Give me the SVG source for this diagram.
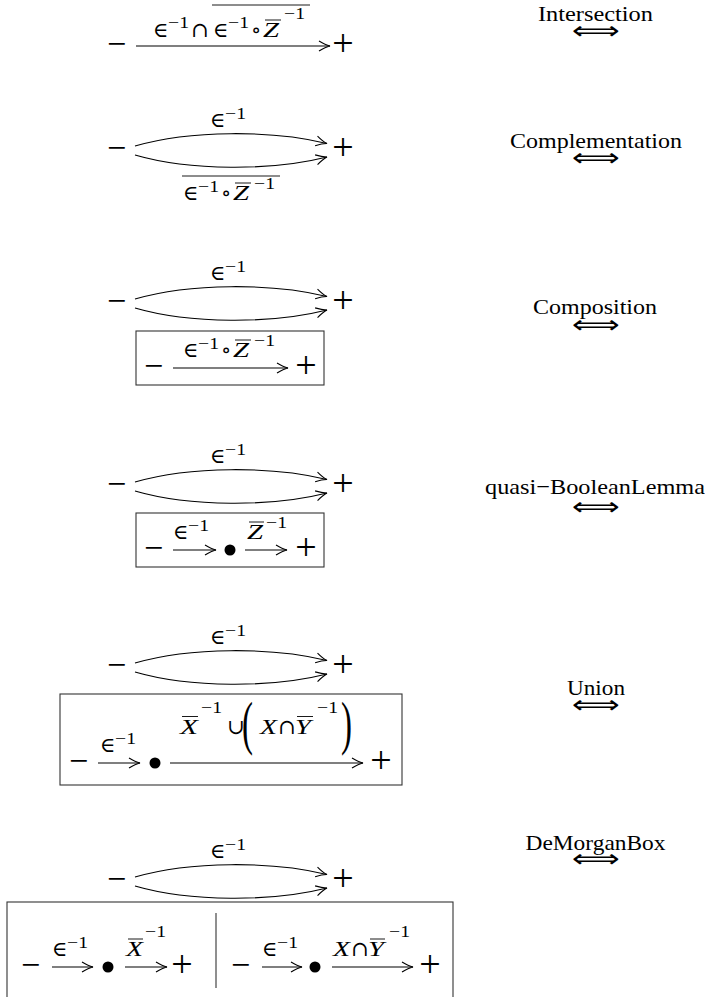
<svg xmlns="http://www.w3.org/2000/svg" width="705" height="997" viewBox="0 0 705 997">
<defs>
<marker id="ah" markerUnits="userSpaceOnUse" viewBox="-13 -7 15 14" markerWidth="15" markerHeight="14" refX="0" refY="0" orient="auto">
<path d="M-11,-5 Q-4.5,-1 0,0 Q-4.5,1 -11,5" fill="none" stroke="#000" stroke-width="1.1"/>
</marker>
<style>
text{font-family:"Liberation Serif","DejaVu Serif",serif;fill:#000}
.m{font-size:22px}
.e{font-size:21px;font-family:"DejaVu Serif","Liberation Serif",serif}
.s{font-size:16px}
.i{font-style:italic;font-size:22px}
.mi{font-size:34px;text-anchor:middle}
.pl{font-size:38px;text-anchor:middle}
.lb{font-size:22px;text-anchor:middle}
.dbl{font-family:"DejaVu Sans",sans-serif;font-size:25px;text-anchor:middle}
.ar{fill:none;stroke:#000;stroke-width:1.1;marker-end:url(#ah)}
.ov{stroke:#000;stroke-width:0.9}
.box{fill:none;stroke:#333;stroke-width:1.1}
.dv{stroke:#333;stroke-width:1.1}
</style>
</defs>
<rect width="705" height="997" fill="#fff"/>

<g id="connectors">
<path class="ar" d="M136,46 H330"/>
<path class="ar" d="M135,146 C190,130 272,130 327,143.5"/>
<path class="ar" d="M135,155 C190,171 272,171 327,157"/>
<path class="ar" d="M135,299 C190,283 272,283 327,296.5"/>
<path class="ar" d="M135,308 C190,324 272,324 327,310"/>
<path class="ar" d="M173,368 H288"/>
<path class="ar" d="M135,482 C190,466 272,466 327,479.5"/>
<path class="ar" d="M135,491 C190,507 272,507 327,493"/>
<path class="ar" d="M173,550 H216"/>
<path class="ar" d="M245,550 H287"/>
<path class="ar" d="M135,663 C190,647 272,647 327,660.5"/>
<path class="ar" d="M135,672 C190,688 272,688 327,674"/>
<path class="ar" d="M98,763 H140"/>
<path class="ar" d="M170,763 H363"/>
<path class="ar" d="M135,877 C190,861 272,861 327,874.5"/>
<path class="ar" d="M135,886 C190,902 272,902 327,888"/>
<path class="ar" d="M52,967 H93"/>
<path class="ar" d="M125,967 H167"/>
<path class="ar" d="M262,967 H302"/>
<path class="ar" d="M332,967 H413"/>
</g>

<!-- Row 1 -->
<g id="row1">
<text class="mi" x="116.5" y="54.5">−</text>
<text class="pl" x="343" y="55.5">+</text>
<text class="e" x="153" y="37">∈</text>
<text class="s" x="168" y="28" textLength="21" lengthAdjust="spacingAndGlyphs">−1</text>
<text class="e" x="191" y="37">∩</text>
<text class="e" x="213" y="37">∈</text>
<text class="s" x="228" y="28" textLength="21" lengthAdjust="spacingAndGlyphs">−1</text>
<text class="e" x="251" y="37">∘</text>
<text class="i" x="263" y="37" textLength="16" lengthAdjust="spacingAndGlyphs">Z</text>
<line class="ov" x1="265" y1="20" x2="281" y2="20"/>
<text class="s" x="284" y="19" textLength="21" lengthAdjust="spacingAndGlyphs">−1</text>
<line class="ov" x1="212" y1="5" x2="310" y2="5"/>
</g>
<g id="label-intersection">
<text class="lb" x="595.5" y="21" textLength="115" lengthAdjust="spacingAndGlyphs">Intersection</text>
<text class="dbl" x="596" y="38.5" textLength="48" lengthAdjust="spacingAndGlyphs">⟺</text>
</g>

<!-- Row 2 -->
<g id="row2">
<text class="mi" x="116.5" y="158.5">−</text>
<text class="pl" x="343" y="159.5">+</text>
<text class="e" x="210" y="127">∈</text>
<text class="s" x="225" y="119" textLength="21" lengthAdjust="spacingAndGlyphs">−1</text>
<text class="e" x="183" y="200">∈</text>
<text class="s" x="198" y="192" textLength="21" lengthAdjust="spacingAndGlyphs">−1</text>
<text class="e" x="221" y="200">∘</text>
<text class="i" x="233" y="200" textLength="16" lengthAdjust="spacingAndGlyphs">Z</text>
<line class="ov" x1="235" y1="183" x2="251" y2="183"/>
<text class="s" x="254" y="189" textLength="21" lengthAdjust="spacingAndGlyphs">−1</text>
<line class="ov" x1="182" y1="176" x2="280" y2="176"/>
</g>
<g id="label-complementation">
<text class="lb" x="596" y="148" textLength="172" lengthAdjust="spacingAndGlyphs">Complementation</text>
<text class="dbl" x="596" y="165.5" textLength="48" lengthAdjust="spacingAndGlyphs">⟺</text>
</g>

<!-- Row 3 -->
<g id="row3">
<text class="mi" x="116.5" y="311.5">−</text>
<text class="pl" x="343" y="312.5">+</text>
<text class="e" x="210" y="280">∈</text>
<text class="s" x="225" y="272" textLength="21" lengthAdjust="spacingAndGlyphs">−1</text>
<rect class="box" x="136" y="331" width="188" height="54"/>
<text class="mi" x="153.5" y="376.5">−</text>
<text class="pl" x="306" y="377.5">+</text>
<text class="e" x="183" y="357">∈</text>
<text class="s" x="198" y="349" textLength="21" lengthAdjust="spacingAndGlyphs">−1</text>
<text class="e" x="221" y="357">∘</text>
<text class="i" x="233" y="357" textLength="16" lengthAdjust="spacingAndGlyphs">Z</text>
<line class="ov" x1="235" y1="340" x2="251" y2="340"/>
<text class="s" x="254" y="346" textLength="21" lengthAdjust="spacingAndGlyphs">−1</text>
</g>
<g id="label-composition">
<text class="lb" x="595" y="314" textLength="124" lengthAdjust="spacingAndGlyphs">Composition</text>
<text class="dbl" x="596" y="332.5" textLength="48" lengthAdjust="spacingAndGlyphs">⟺</text>
</g>

<!-- Row 4 -->
<g id="row4">
<text class="mi" x="116.5" y="494.5">−</text>
<text class="pl" x="343" y="495.5">+</text>
<text class="e" x="210" y="463">∈</text>
<text class="s" x="225" y="455" textLength="21" lengthAdjust="spacingAndGlyphs">−1</text>
<rect class="box" x="136" y="513" width="188" height="54"/>
<text class="mi" x="153.5" y="558.5">−</text>
<circle cx="230" cy="550" r="5.5"/>
<text class="pl" x="306" y="559.5">+</text>
<text class="e" x="173" y="539">∈</text>
<text class="s" x="188" y="531" textLength="21" lengthAdjust="spacingAndGlyphs">−1</text>
<text class="i" x="247" y="539" textLength="16" lengthAdjust="spacingAndGlyphs">Z</text>
<line class="ov" x1="249" y1="522" x2="264" y2="522"/>
<text class="s" x="266" y="528" textLength="21" lengthAdjust="spacingAndGlyphs">−1</text>
</g>
<g id="label-quasi">
<text class="lb" x="595" y="494" textLength="220" lengthAdjust="spacingAndGlyphs">quasi−BooleanLemma</text>
<text class="dbl" x="596" y="514.5" textLength="48" lengthAdjust="spacingAndGlyphs">⟺</text>
</g>

<!-- Row 5 -->
<g id="row5">
<text class="mi" x="116.5" y="675.5">−</text>
<text class="pl" x="343" y="676.5">+</text>
<text class="e" x="210" y="644">∈</text>
<text class="s" x="225" y="636" textLength="21" lengthAdjust="spacingAndGlyphs">−1</text>
<rect class="box" x="60" y="694" width="342" height="91"/>
<text class="mi" x="78.5" y="771.5">−</text>
<text class="e" x="100" y="752">∈</text>
<text class="s" x="115" y="744" textLength="21" lengthAdjust="spacingAndGlyphs">−1</text>
<circle cx="155" cy="763" r="5.5"/>
<text class="pl" x="381" y="772.5">+</text>
<text class="i" x="180" y="734" textLength="18" lengthAdjust="spacingAndGlyphs">X</text>
<line class="ov" x1="182" y1="716.5" x2="198" y2="716.5"/>
<text class="s" x="201" y="713" textLength="21" lengthAdjust="spacingAndGlyphs">−1</text>
<text class="e" x="227" y="734">∪</text>
<text class="m" transform="translate(242,742.6) scale(1.5,2.66)">(</text>
<text class="i" x="260" y="734" textLength="17" lengthAdjust="spacingAndGlyphs">X</text>
<text class="e" x="278" y="734">∩</text>
<text class="i" x="295" y="734" textLength="16" lengthAdjust="spacingAndGlyphs">Y</text>
<line class="ov" x1="297" y1="716.5" x2="313" y2="716.5"/>
<text class="s" x="317" y="713" textLength="21" lengthAdjust="spacingAndGlyphs">−1</text>
<text class="m" transform="translate(341,742.6) scale(1.5,2.66)">)</text>
</g>
<g id="label-union">
<text class="lb" x="596" y="695" textLength="58" lengthAdjust="spacingAndGlyphs">Union</text>
<text class="dbl" x="596" y="712.5" textLength="48" lengthAdjust="spacingAndGlyphs">⟺</text>
</g>

<!-- Row 6 -->
<g id="row6">
<text class="mi" x="116.5" y="889.5">−</text>
<text class="pl" x="343" y="890.5">+</text>
<text class="e" x="210" y="858">∈</text>
<text class="s" x="225" y="850" textLength="21" lengthAdjust="spacingAndGlyphs">−1</text>
<rect class="box" x="7" y="902" width="446" height="110"/>
<line class="dv" x1="216" y1="913" x2="216" y2="988"/>
<text class="mi" x="30.5" y="975.5">−</text>
<text class="e" x="52" y="956">∈</text>
<text class="s" x="67" y="948" textLength="21" lengthAdjust="spacingAndGlyphs">−1</text>
<circle cx="108" cy="967" r="5.5"/>
<text class="i" x="126" y="956" textLength="17" lengthAdjust="spacingAndGlyphs">X</text>
<line class="ov" x1="128" y1="939" x2="143" y2="939"/>
<text class="s" x="145" y="937" textLength="21" lengthAdjust="spacingAndGlyphs">−1</text>
<text class="pl" x="182" y="976.5">+</text>
<text class="mi" x="240.5" y="975.5">−</text>
<text class="e" x="262" y="956">∈</text>
<text class="s" x="277" y="948" textLength="21" lengthAdjust="spacingAndGlyphs">−1</text>
<circle cx="315" cy="967" r="5.5"/>
<text class="i" x="333" y="956" textLength="17" lengthAdjust="spacingAndGlyphs">X</text>
<text class="e" x="351" y="956">∩</text>
<text class="i" x="368" y="956" textLength="16" lengthAdjust="spacingAndGlyphs">Y</text>
<line class="ov" x1="370" y1="939" x2="385" y2="939"/>
<text class="s" x="389" y="937" textLength="21" lengthAdjust="spacingAndGlyphs">−1</text>
<text class="pl" x="430" y="976.5">+</text>
</g>
<g id="label-demorgan">
<text class="lb" x="595.5" y="850" textLength="140" lengthAdjust="spacingAndGlyphs">DeMorganBox</text>
<text class="dbl" x="596" y="866.5" textLength="48" lengthAdjust="spacingAndGlyphs">⟺</text>
</g>
</svg>
